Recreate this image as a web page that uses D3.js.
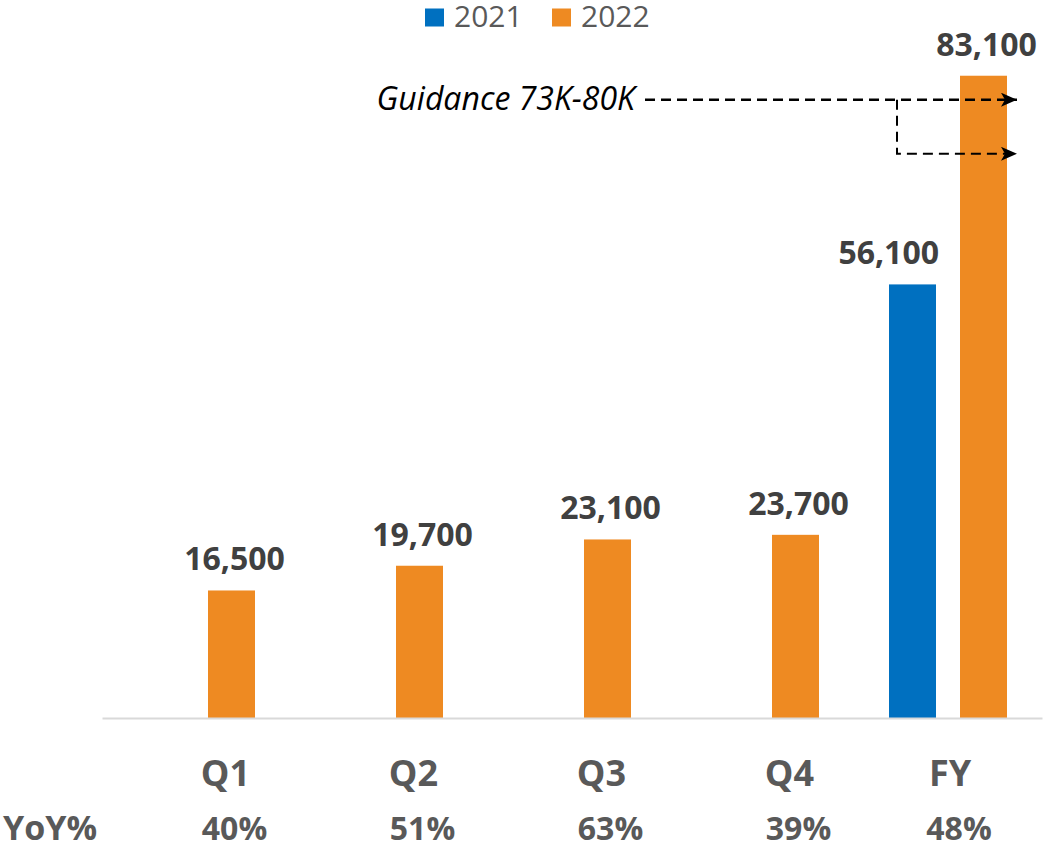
<!DOCTYPE html>
<html>
<head>
<meta charset="utf-8">
<script src="https://cdn.jsdelivr.net/npm/d3@7"></script>
<style>
  body { margin: 0; background: #fff; }
  svg text { font-family: "Open Sans", sans-serif; }
</style>
</head>
<body>
<div id="chart"></div>
<script>
// data
const categories = ["Q1", "Q2", "Q3", "Q4", "FY"];
const series = ["2021", "2022"];
const values2021 = [null, null, null, null, 56100];
const values2022 = [16500, 19700, 23100, 23700, 83100];
const yoyLabels = ["40%", "51%", "63%", "39%", "48%"];
const guidance = { low: 73000, high: 80000, text: "Guidance 73K-80K" };

const colors = { "2021": "#0070C0", "2022": "#EE8A22" };

const width = 1043,
  height = 849;

const svg = d3
  .select("#chart")
  .append("svg")
  .attr("width", width)
  .attr("height", height);

// *scales
const x0 = d3.scaleBand().domain(categories).range([102, 1042]).padding(0);
const x1 = d3
  .scaleBand()
  .domain(series)
  .range([0, x0.bandwidth()])
  .paddingInner(0.338)
  .paddingOuter(0.493);
const y = d3.scaleLinear().domain([0, 90000]).range([718, 22.4]);

const rows = [];
categories.forEach((c, i) => {
  if (values2021[i] != null) rows.push({ cat: c, s: "2021", v: values2021[i] });
  if (values2022[i] != null) rows.push({ cat: c, s: "2022", v: values2022[i] });
});

// *bars
svg
  .selectAll(".bar")
  .data(rows)
  .enter()
  .append("rect")
  .attr("class", "bar")
  .attr("x", (d) => x0(d.cat) + x1(d.s))
  .attr("width", x1.bandwidth())
  .attr("y", (d) => y(d.v))
  .attr("height", (d) => y(0) - y(d.v))
  .attr("fill", (d) => colors[d.s]);

// *x axis line only
const xAxis = svg
  .append("g")
  .attr("transform", "translate(0," + y(0) + ")")
  .call(d3.axisBottom(x0).tickSize(0).tickSizeOuter(0).tickFormat(""));
xAxis.select(".domain").attr("stroke", "#D9D9D9").attr("stroke-width", 2);

// *value labels
svg
  .selectAll(".valLabel")
  .data(rows)
  .enter()
  .append("text")
  .attr("class", "valLabel")
  .attr("x", (d) =>
    d.s === "2021"
      ? x0(d.cat) + x1(d.s) + x1.bandwidth() + 3
      : x0(d.cat) + x1(d.s) + x1.bandwidth() / 2 + 3
  )
  .attr("y", (d) => y(d.v) - 20)
  .attr("text-anchor", (d) => (d.s === "2021" ? "end" : "middle"))
  .attr("font-size", 32)
  .attr("font-weight", 700)
  .attr("fill", "#404040")
  .text((d) => d3.format(",")(d.v));

// *category labels: under the single bar for quarters, centred for FY
const labelX = (c, i) =>
  values2021[i] == null
    ? x0(c) + x1("2022") + x1.bandwidth() / 2 - 6
    : x0(c) + x0.bandwidth() / 2 + 2;

svg
  .selectAll(".catLabel")
  .data(categories)
  .enter()
  .append("text")
  .attr("class", "catLabel")
  .attr("x", (c, i) => labelX(c, i))
  .attr("y", 786)
  .attr("text-anchor", "middle")
  .attr("font-size", 36)
  .attr("font-weight", 700)
  .attr("fill", "#595959")
  .text((c) => c);

// *YoY row
svg
  .append("text")
  .attr("x", 3)
  .attr("y", 840)
  .attr("font-size", 34)
  .attr("font-weight", 700)
  .attr("fill", "#595959")
  .text("YoY%");

svg
  .selectAll(".yoyLabel")
  .data(yoyLabels)
  .enter()
  .append("text")
  .attr("class", "yoyLabel")
  .attr("x", (d, i) => labelX(categories[i], i) + 9)
  .attr("y", 840)
  .attr("text-anchor", "middle")
  .attr("font-size", 32)
  .attr("font-weight", 700)
  .attr("fill", "#595959")
  .text((d) => d);

// *legend
const legend = svg.append("g").attr("transform", "translate(425,0)");
series.forEach((s, i) => {
  const lg = legend.append("g").attr("transform", "translate(" + i * 127 + ",0)");
  lg.append("rect")
    .attr("x", 0)
    .attr("y", 8.5)
    .attr("width", 19)
    .attr("height", 18)
    .attr("fill", colors[s]);
  lg.append("text")
    .attr("x", 29)
    .attr("y", 27)
    .attr("font-size", 30)
    .attr("fill", "#595959")
    .text(s);
});

// *guidance annotation
svg
  .append("defs")
  .append("marker")
  .attr("id", "arrow")
  .attr("viewBox", "0 0 16 14")
  .attr("refX", 16)
  .attr("refY", 7)
  .attr("markerWidth", 16)
  .attr("markerHeight", 14)
  .attr("markerUnits", "userSpaceOnUse")
  .attr("orient", "auto")
  .append("path")
  .attr("d", "M0,0 L16,7 L0,14 L4,7 Z")
  .attr("fill", "#000");

const fyBarLeft = x0("FY") + x1("2022");
const tipX = fyBarLeft + x1.bandwidth() + 10;
const bendX = x0("FY") + 43;

svg
  .append("text")
  .attr("x", 635)
  .attr("y", y(guidance.high) + 10)
  .attr("text-anchor", "end")
  .attr("font-size", 32)
  .attr("font-style", "italic")
  .attr("fill", "#000")
  .text(guidance.text);

svg
  .append("path")
  .attr("d", "M645," + y(guidance.high) + " H" + tipX)
  .attr("fill", "none")
  .attr("stroke", "#000")
  .attr("stroke-width", 2.5)
  .attr("stroke-dasharray", "10,6")
  .attr("marker-end", "url(#arrow)");

svg
  .append("path")
  .attr("d", "M" + bendX + "," + y(guidance.high) + " V" + y(guidance.low) + " H" + tipX)
  .attr("fill", "none")
  .attr("stroke", "#000")
  .attr("stroke-width", 2)
  .attr("stroke-dasharray", "10,6")
  .attr("marker-end", "url(#arrow)");
</script>
</body>
</html>
